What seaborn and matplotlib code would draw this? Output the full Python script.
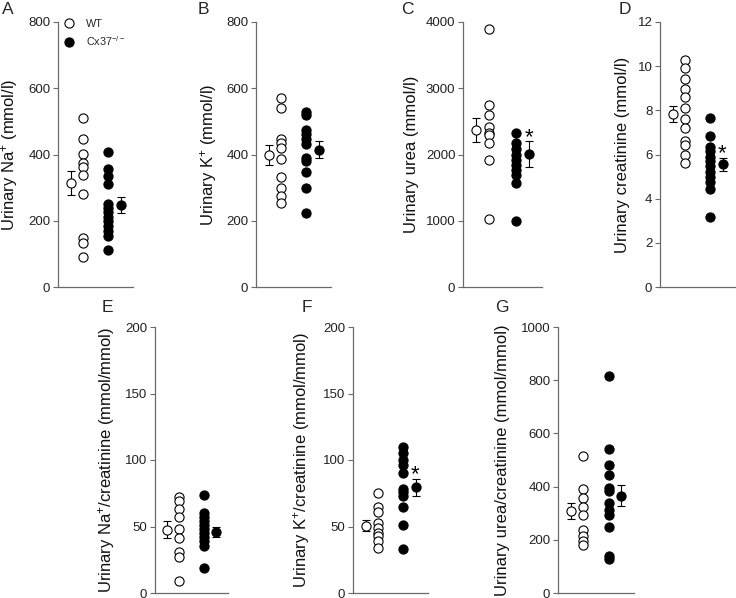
import numpy as np
import pandas as pd
import matplotlib
matplotlib.use("Agg")
import matplotlib.pyplot as plt
import matplotlib.transforms as mtransforms
import seaborn as sns
from matplotlib.lines import Line2D

sns.set_theme(style="ticks")
plt.rcParams['font.family'] = ['Liberation Sans', 'DejaVu Sans']
plt.rcParams['mathtext.fontset'] = 'custom'
plt.rcParams['mathtext.rm'] = 'Liberation Sans'
plt.rcParams['mathtext.it'] = 'Liberation Sans:italic'
plt.rcParams['mathtext.bf'] = 'Liberation Sans:bold'

# individual animals
wt_na = [509, 446, 403, 373, 362, 338, 280, 149, 134, 91]
ko_na = [407, 357, 335, 310, 250, 238, 225, 212, 200, 185, 170, 155, 111]
wt_k = [572, 539, 448, 435, 420, 385, 332, 300, 275, 255]
ko_k = [528, 520, 475, 462, 448, 432, 390, 380, 348, 300, 222]
wt_urea = [3890, 2750, 2590, 2420, 2330, 2290, 2180, 1910, 1030]
ko_urea = [2330, 2170, 2090, 2000, 1920, 1840, 1760, 1690, 1570, 1000]
wt_crea = [10.3, 9.9, 9.4, 8.95, 8.6, 8.1, 7.6, 7.2, 6.6, 6.45, 6.0, 5.6]
ko_crea = [7.65, 6.85, 6.35, 6.15, 5.9, 5.7, 5.5, 5.2, 5.0, 4.75, 4.45, 3.15]
wt_na_cr = [72, 69, 63, 57, 48, 41, 31, 27, 9]
ko_na_cr = [74, 60, 57, 54, 51, 48, 45, 42, 39, 35, 19]
wt_k_cr = [75, 65, 61, 53, 49, 45, 43, 39, 34]
ko_k_cr = [110, 105, 100, 96, 90, 78, 76, 73, 65, 51, 33]
wt_urea_cr = [514, 390, 357, 325, 295, 235, 213, 195, 182]
ko_urea_cr = [815, 540, 480, 445, 395, 385, 340, 312, 295, 250, 138, 128]

# group means and SEM as drawn
wt_mean = [314, 398, 2368, 7.82, 47.5, 50.6, 308]
wt_sem = [36, 30, 185, 0.37, 6.5, 4, 30]
ko_mean = [248, 415, 2010, 5.56, 46, 79.4, 366]
ko_sem = [24, 27, 195, 0.3, 4, 6.5, 40]

letters = ["A", "B", "C", "D", "E", "F", "G"]
ylabels = ["Urinary Na$^{+}$ (mmol/l)", "Urinary K$^{+}$ (mmol/l)",
           "Urinary urea (mmol/l)", "Urinary creatinine (mmol/l)",
           "Urinary Na$^{+}$/creatinine (mmol/mmol)",
           "Urinary K$^{+}$/creatinine (mmol/mmol)",
           "Urinary urea/creatinine (mmol/mmol)"]
ytops = [800, 800, 4000, 12, 200, 200, 1000]
ysteps = [200, 200, 1000, 2, 50, 50, 200]
stars = [False, False, True, True, False, True, False]

wt_sets = [wt_na, wt_k, wt_urea, wt_crea, wt_na_cr, wt_k_cr, wt_urea_cr]
ko_sets = [ko_na, ko_k, ko_urea, ko_crea, ko_na_cr, ko_k_cr, ko_urea_cr]

rows = []
for i in range(7):
    for v in wt_sets[i]:
        rows.append((i, "WT", 1, v))
    for v in ko_sets[i]:
        rows.append((i, "KO", 3, v))
df = pd.DataFrame(rows, columns=["panel", "group", "pos", "value"])

# axes boxes in pixels: left, right, top, bottom
W, H = 736, 598
boxes = [(58, 133, 22, 287), (256, 331, 22, 287), (463, 542, 22, 287),
         (660, 735, 22, 287), (155, 228, 327, 593), (353, 428, 327, 593),
         (558, 634, 327, 593)]
label_x = [20, 219, 419, 630, 117, 312, 510]
letter_xy = [(8, 10), (203, 10), (407, 10), (625, 10), (107, 308), (307, 308), (502, 308)]

fig = plt.figure(figsize=(7.36, 5.98), dpi=100)
spine_col = "#6a6a6a"
ms = 6.6

for i in range(7):
    l, r, t, b = boxes[i]
    ax = fig.add_axes([l / W, 1 - b / H, (r - l) / W, (b - t) / H])
    sub = df[df.panel == i]
    wt = sub[sub.group == "WT"]
    ko = sub[sub.group == "KO"]
    sns.scatterplot(x="pos", y="value", data=wt, ax=ax, marker="o", s=ms ** 2,
                    facecolor="white", edgecolor="black", linewidth=0.8, zorder=3)
    sns.scatterplot(x="pos", y="value", data=ko, ax=ax, marker="o", s=ms ** 2,
                    color="black", edgecolor="black", linewidth=0.8, zorder=3)
    ax.errorbar([0], [wt_mean[i]], yerr=[wt_sem[i]], fmt="o", ms=ms, mfc="white",
                mec="black", mew=0.8, ecolor="black", elinewidth=0.8, capsize=2.6,
                capthick=0.8, zorder=4)
    ax.errorbar([4], [ko_mean[i]], yerr=[ko_sem[i]], fmt="o", ms=ms, mfc="black",
                mec="black", mew=0.8, ecolor="black", elinewidth=0.8, capsize=2.6,
                capthick=0.8, zorder=4)
    if stars[i]:
        tr = mtransforms.offset_copy(ax.transData, fig=fig, y=-5, units="points")
        ax.text(4, ko_mean[i] + ko_sem[i] + ytops[i] * 0.04, "*", ha="center",
                va="center", fontsize=16, color="black", transform=tr)

    ax.set_xlim(-1, 5)
    ax.set_ylim(0, ytops[i])
    ax.set_yticks(np.arange(0, ytops[i] + ysteps[i] / 2, ysteps[i]))
    ax.set_xticks([])
    ax.set_xlabel("")
    ax.set_ylabel(ylabels[i], fontsize=12, color="#111111")
    ax.yaxis.set_label_coords(label_x[i] / W, 1 - (t + b) / 2 / H,
                              transform=fig.transFigure)
    ax.tick_params(axis="y", labelsize=9.5, length=3.5, width=0.8, color=spine_col,
                   labelcolor="#222222", pad=2)
    sns.despine(ax=ax)
    for s in ["left", "bottom"]:
        ax.spines[s].set_color(spine_col)
        ax.spines[s].set_linewidth(0.9)
    ax.patch.set_alpha(0)
    lx, ly = letter_xy[i]
    fig.text(lx / W, 1 - ly / H, letters[i], ha="center", va="center", fontsize=12.5)

    if i == 0:
        handles = [Line2D([], [], ls="", marker="o", ms=ms, mfc="white", mec="black", mew=0.8),
                   Line2D([], [], ls="", marker="o", ms=ms, mfc="black", mec="black", mew=0.8)]
        ax.legend(handles, ["WT", "Cx37$^{-/-}$"], loc="upper left",
                  bbox_to_anchor=(64 / W, 1 - 19 / H), bbox_transform=fig.transFigure,
                  frameon=False, fontsize=7.8, handlelength=1.0, handletextpad=1.0,
                  labelspacing=0.45, borderpad=0, borderaxespad=0)

fig.savefig("out.png", dpi=100)
